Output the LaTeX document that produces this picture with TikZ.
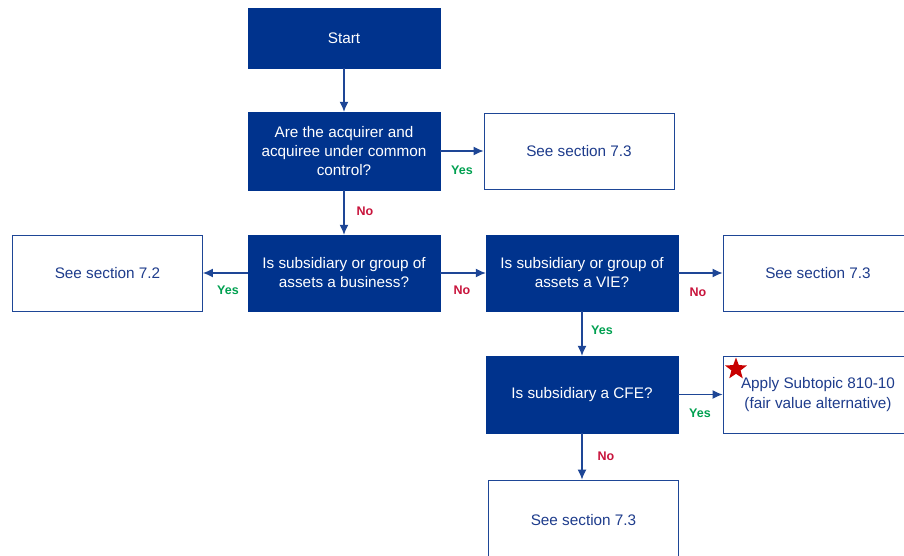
\documentclass[tikz,border=0pt]{standalone}
\usepackage{fontspec}
\setmainfont{Liberation Sans}
\usetikzlibrary{arrows.meta,shapes.geometric}
\definecolor{navy}{RGB}{0,51,141}
\definecolor{txtblue}{RGB}{30,60,140}
\definecolor{lineblue}{RGB}{30,70,150}
\definecolor{yesgreen}{RGB}{0,160,80}
\definecolor{nored}{RGB}{200,20,60}
\definecolor{starred}{RGB}{200,0,0}
\tikzset{
  qbox/.style={draw=navy, fill=navy, text=white, minimum width=192pt, minimum height=77pt, align=center, font=\fontsize{15.3}{19}\selectfont, inner sep=0pt},
  abox/.style={draw=lineblue, line width=0.9pt, fill=white, text=txtblue, minimum width=190pt, minimum height=76pt, align=center, font=\fontsize{15.3}{19.5}\selectfont, inner sep=0pt},
  conn/.style={draw=lineblue, line width=1.1pt, -{Latex[length=10pt,width=9pt]}},
  yeslbl/.style={text=yesgreen, font=\bfseries\fontsize{12.5}{14}\selectfont},
  nolbl/.style={text=nored, font=\bfseries\fontsize{12.5}{14}\selectfont}
}
\begin{document}
\begin{tikzpicture}[x=1pt,y=-1pt]
\useasboundingbox (0,0) rectangle (904,556);
\begin{scope}
\clip (0,0) rectangle (904,556);
\node[qbox, minimum height=60pt] (start) at (344,38) {Start};
\node[qbox, minimum height=78pt] (q1) at (344,151) {Are the acquirer and\\acquiree under common\\control?};
\node[abox] (s73a) at (579,151) {See section 7.3};
\node[abox] (s72) at (107.5,273) {See section 7.2};
\node[qbox, minimum height=76pt] (q2) at (344,273) {Is subsidiary or group of\\assets a business?};
\node[qbox, minimum height=76pt] (q3) at (582,273) {Is subsidiary or group of\\assets a VIE?};
\node[abox] (s73b) at (818,273) {See section 7.3};
\node[qbox] (q4) at (582,394.5) {Is subsidiary a CFE?};
\node[abox, minimum height=77pt] (apply) at (818,394.5) {Apply Subtopic 810-10\\(fair value alternative)};
\node[abox, minimum height=80pt] (s73c) at (583.5,520) {See section 7.3};
\node[star, star points=5, star point ratio=2.4, fill=starred, minimum size=23pt, inner sep=0pt] (starmark) at (736,369) {};

\draw[conn] (start) -- (q1);
\draw[conn] (q1) -- (s73a);
\draw[conn] (q1) -- (q2);
\draw[conn] (q2) -- (s72);
\draw[conn] (q2) -- (q3);
\draw[conn] (q3) -- (s73b);
\draw[conn] (q3) -- (q4);
\draw[conn] (q4) -- (apply);
\draw[conn] (q4.south) -- (q4.south |- s73c.north);

\node[yeslbl] (l1) at (462,170) {Yes};
\node[nolbl] (l2) at (365,211) {No};
\node[yeslbl] (l3) at (228,290) {Yes};
\node[nolbl] (l4) at (462,290) {No};
\node[nolbl] (l5) at (698,292) {No};
\node[yeslbl] (l6) at (602,330) {Yes};
\node[yeslbl] (l7) at (700,413) {Yes};
\node[nolbl] (l8) at (606,456) {No};
\end{scope}
\end{tikzpicture}
\end{document}
